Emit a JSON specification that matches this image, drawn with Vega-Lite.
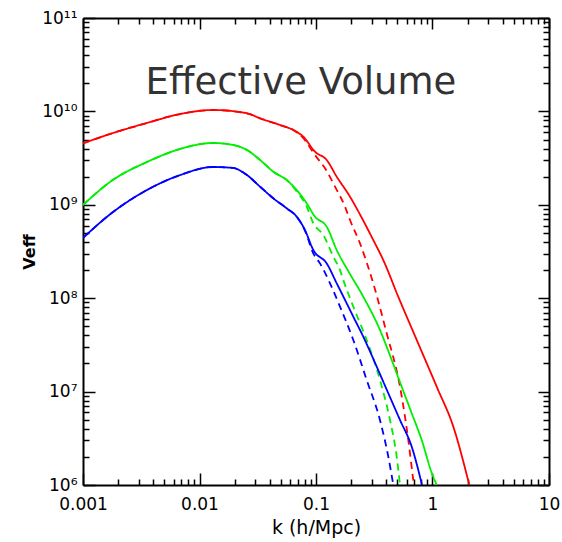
{
  "$schema": "https://vega.github.io/schema/vega-lite/v6.json",
  "width": 466,
  "height": 467,
  "autosize": {"type": "none"},
  "padding": {"left": 83, "top": 18, "right": 13, "bottom": 57},
  "background": "white",
  "config": {
    "view": {"stroke": null},
    "axis": {
      "grid": false,
      "domainColor": "black",
      "domainWidth": 2,
      "tickColor": "black",
      "tickWidth": 1.5,
      "labelFont": "DejaVu Sans",
      "labelFontSize": 17,
      "labelColor": "black",
      "titleFont": "DejaVu Sans",
      "titleColor": "black",
      "labelFlush": false,
      "labelOverlap": false
    }
  },
  "datasets": {
    "curves": [
      {"k": 0.001, "V": 4.55e9, "s": "red", "t": "solid"},
      {"k": 0.00181, "V": 5.87e9, "s": "red", "t": "solid"},
      {"k": 0.00354, "V": 7.52e9, "s": "red", "t": "solid"},
      {"k": 0.00681, "V": 9.37e9, "s": "red", "t": "solid"},
      {"k": 0.01306, "V": 1.035e10, "s": "red", "t": "solid"},
      {"k": 0.02558, "V": 9.55e9, "s": "red", "t": "solid"},
      {"k": 0.0331, "V": 8.43e9, "s": "red", "t": "solid"},
      {"k": 0.0491, "V": 7.15e9, "s": "red", "t": "solid"},
      {"k": 0.0639, "V": 6.32e9, "s": "red", "t": "solid"},
      {"k": 0.0778, "V": 5.36e9, "s": "red", "t": "solid"},
      {"k": 0.098, "V": 3.7e9, "s": "red", "t": "solid"},
      {"k": 0.1235, "V": 3.02e9, "s": "red", "t": "solid"},
      {"k": 0.1506, "V": 2.0e9, "s": "red", "t": "solid"},
      {"k": 0.1958, "V": 1.221e9, "s": "red", "t": "solid"},
      {"k": 0.253, "V": 6.87e8, "s": "red", "t": "solid"},
      {"k": 0.31, "V": 4.2e8, "s": "red", "t": "solid"},
      {"k": 0.378, "V": 2.56e8, "s": "red", "t": "solid"},
      {"k": 0.5085, "V": 1.037e8, "s": "red", "t": "solid"},
      {"k": 0.732, "V": 3.57e7, "s": "red", "t": "solid"},
      {"k": 1.087, "V": 1.128e7, "s": "red", "t": "solid"},
      {"k": 1.509, "V": 4.21e6, "s": "red", "t": "solid"},
      {"k": 2.07, "V": 1e6, "s": "red", "t": "solid"},

      {"k": 0.001, "V": 4.55e9, "s": "red", "t": "dashed"},
      {"k": 0.00181, "V": 5.87e9, "s": "red", "t": "dashed"},
      {"k": 0.00354, "V": 7.52e9, "s": "red", "t": "dashed"},
      {"k": 0.00681, "V": 9.37e9, "s": "red", "t": "dashed"},
      {"k": 0.01306, "V": 1.035e10, "s": "red", "t": "dashed"},
      {"k": 0.02558, "V": 9.55e9, "s": "red", "t": "dashed"},
      {"k": 0.0331, "V": 8.43e9, "s": "red", "t": "dashed"},
      {"k": 0.0491, "V": 7.15e9, "s": "red", "t": "dashed"},
      {"k": 0.0639, "V": 6.32e9, "s": "red", "t": "dashed"},
      {"k": 0.0778, "V": 5.16e9, "s": "red", "t": "dashed"},
      {"k": 0.098, "V": 3.41e9, "s": "red", "t": "dashed"},
      {"k": 0.1195, "V": 2.46e9, "s": "red", "t": "dashed"},
      {"k": 0.1456, "V": 1.563e9, "s": "red", "t": "dashed"},
      {"k": 0.1774, "V": 9.55e8, "s": "red", "t": "dashed"},
      {"k": 0.1958, "V": 6.87e8, "s": "red", "t": "dashed"},
      {"k": 0.2385, "V": 3.87e8, "s": "red", "t": "dashed"},
      {"k": 0.31, "V": 1.444e8, "s": "red", "t": "dashed"},
      {"k": 0.4044, "V": 4.21e7, "s": "red", "t": "dashed"},
      {"k": 0.526, "V": 1.128e7, "s": "red", "t": "dashed"},
      {"k": 0.62, "V": 3.03e6, "s": "red", "t": "dashed"},
      {"k": 0.684, "V": 1.13e6, "s": "red", "t": "dashed"},
      {"k": 0.693, "V": 1e6, "s": "red", "t": "dashed"},

      {"k": 0.001, "V": 9.95e8, "s": "green", "t": "solid"},
      {"k": 0.00181, "V": 1.85e9, "s": "green", "t": "solid"},
      {"k": 0.00354, "V": 2.87e9, "s": "green", "t": "solid"},
      {"k": 0.00681, "V": 3.96e9, "s": "green", "t": "solid"},
      {"k": 0.01306, "V": 4.59e9, "s": "green", "t": "solid"},
      {"k": 0.0194, "V": 4.37e9, "s": "green", "t": "solid"},
      {"k": 0.02558, "V": 3.86e9, "s": "green", "t": "solid"},
      {"k": 0.0331, "V": 3.02e9, "s": "green", "t": "solid"},
      {"k": 0.043, "V": 2.26e9, "s": "green", "t": "solid"},
      {"k": 0.056, "V": 1.843e9, "s": "green", "t": "solid"},
      {"k": 0.0683, "V": 1.44e9, "s": "green", "t": "solid"},
      {"k": 0.0832, "V": 1.038e9, "s": "green", "t": "solid"},
      {"k": 0.098, "V": 7.46e8, "s": "green", "t": "solid"},
      {"k": 0.1235, "V": 5.83e8, "s": "green", "t": "solid"},
      {"k": 0.1506, "V": 3.28e8, "s": "green", "t": "solid"},
      {"k": 0.1958, "V": 1.815e8, "s": "green", "t": "solid"},
      {"k": 0.2547, "V": 1.037e8, "s": "green", "t": "solid"},
      {"k": 0.354, "V": 4.57e7, "s": "green", "t": "solid"},
      {"k": 0.4465, "V": 2.18e7, "s": "green", "t": "solid"},
      {"k": 0.544, "V": 1.128e7, "s": "green", "t": "solid"},
      {"k": 0.6632, "V": 5.86e6, "s": "green", "t": "solid"},
      {"k": 0.808, "V": 3.03e6, "s": "green", "t": "solid"},
      {"k": 0.984, "V": 1.354e6, "s": "green", "t": "solid"},
      {"k": 1.087, "V": 1e6, "s": "green", "t": "solid"},

      {"k": 0.001, "V": 9.95e8, "s": "green", "t": "dashed"},
      {"k": 0.00181, "V": 1.85e9, "s": "green", "t": "dashed"},
      {"k": 0.00354, "V": 2.87e9, "s": "green", "t": "dashed"},
      {"k": 0.00681, "V": 3.96e9, "s": "green", "t": "dashed"},
      {"k": 0.01306, "V": 4.59e9, "s": "green", "t": "dashed"},
      {"k": 0.0194, "V": 4.37e9, "s": "green", "t": "dashed"},
      {"k": 0.02558, "V": 3.86e9, "s": "green", "t": "dashed"},
      {"k": 0.0331, "V": 3.02e9, "s": "green", "t": "dashed"},
      {"k": 0.043, "V": 2.26e9, "s": "green", "t": "dashed"},
      {"k": 0.056, "V": 1.843e9, "s": "green", "t": "dashed"},
      {"k": 0.0683, "V": 1.39e9, "s": "green", "t": "dashed"},
      {"k": 0.0832, "V": 9.55e8, "s": "green", "t": "dashed"},
      {"k": 0.0948, "V": 6.34e8, "s": "green", "t": "dashed"},
      {"k": 0.1155, "V": 4.75e8, "s": "green", "t": "dashed"},
      {"k": 0.1408, "V": 2.78e8, "s": "green", "t": "dashed"},
      {"k": 0.1607, "V": 2.0e8, "s": "green", "t": "dashed"},
      {"k": 0.1715, "V": 1.567e8, "s": "green", "t": "dashed"},
      {"k": 0.209, "V": 8.11e7, "s": "green", "t": "dashed"},
      {"k": 0.2723, "V": 3.57e7, "s": "green", "t": "dashed"},
      {"k": 0.354, "V": 1.331e7, "s": "green", "t": "dashed"},
      {"k": 0.4315, "V": 4.97e6, "s": "green", "t": "dashed"},
      {"k": 0.4928, "V": 2.01e6, "s": "green", "t": "dashed"},
      {"k": 0.526, "V": 1e6, "s": "green", "t": "dashed"},

      {"k": 0.001, "V": 4.42e8, "s": "blue", "t": "solid"},
      {"k": 0.00181, "V": 8.37e8, "s": "blue", "t": "solid"},
      {"k": 0.00354, "V": 1.44e9, "s": "blue", "t": "solid"},
      {"k": 0.00681, "V": 2.08e9, "s": "blue", "t": "solid"},
      {"k": 0.01306, "V": 2.54e9, "s": "blue", "t": "solid"},
      {"k": 0.0194, "V": 2.48e9, "s": "blue", "t": "solid"},
      {"k": 0.02558, "V": 2.08e9, "s": "blue", "t": "solid"},
      {"k": 0.0331, "V": 1.563e9, "s": "blue", "t": "solid"},
      {"k": 0.043, "V": 1.174e9, "s": "blue", "t": "solid"},
      {"k": 0.056, "V": 9.17e8, "s": "blue", "t": "solid"},
      {"k": 0.0683, "V": 7.46e8, "s": "blue", "t": "solid"},
      {"k": 0.0804, "V": 5.37e8, "s": "blue", "t": "solid"},
      {"k": 0.0948, "V": 3.28e8, "s": "blue", "t": "solid"},
      {"k": 0.1235, "V": 2.36e8, "s": "blue", "t": "solid"},
      {"k": 0.1506, "V": 1.444e8, "s": "blue", "t": "solid"},
      {"k": 0.1834, "V": 8.82e7, "s": "blue", "t": "solid"},
      {"k": 0.209, "V": 6.34e7, "s": "blue", "t": "solid"},
      {"k": 0.2547, "V": 3.87e7, "s": "blue", "t": "solid"},
      {"k": 0.332, "V": 1.848e7, "s": "blue", "t": "solid"},
      {"k": 0.4174, "V": 9.6e6, "s": "blue", "t": "solid"},
      {"k": 0.526, "V": 4.97e6, "s": "blue", "t": "solid"},
      {"k": 0.6632, "V": 2.57e6, "s": "blue", "t": "solid"},
      {"k": 0.813, "V": 1e6, "s": "blue", "t": "solid"},

      {"k": 0.001, "V": 4.42e8, "s": "blue", "t": "dashed"},
      {"k": 0.00181, "V": 8.37e8, "s": "blue", "t": "dashed"},
      {"k": 0.00354, "V": 1.44e9, "s": "blue", "t": "dashed"},
      {"k": 0.00681, "V": 2.08e9, "s": "blue", "t": "dashed"},
      {"k": 0.01306, "V": 2.54e9, "s": "blue", "t": "dashed"},
      {"k": 0.0194, "V": 2.48e9, "s": "blue", "t": "dashed"},
      {"k": 0.02558, "V": 2.08e9, "s": "blue", "t": "dashed"},
      {"k": 0.0331, "V": 1.563e9, "s": "blue", "t": "dashed"},
      {"k": 0.043, "V": 1.174e9, "s": "blue", "t": "dashed"},
      {"k": 0.056, "V": 9.17e8, "s": "blue", "t": "dashed"},
      {"k": 0.0683, "V": 7.46e8, "s": "blue", "t": "dashed"},
      {"k": 0.0804, "V": 5.3e8, "s": "blue", "t": "dashed"},
      {"k": 0.0948, "V": 3.02e8, "s": "blue", "t": "dashed"},
      {"k": 0.1082, "V": 2.36e8, "s": "blue", "t": "dashed"},
      {"k": 0.1319, "V": 1.444e8, "s": "blue", "t": "dashed"},
      {"k": 0.1607, "V": 8.11e7, "s": "blue", "t": "dashed"},
      {"k": 0.209, "V": 3.57e7, "s": "blue", "t": "dashed"},
      {"k": 0.2723, "V": 1.331e7, "s": "blue", "t": "dashed"},
      {"k": 0.354, "V": 4.97e6, "s": "blue", "t": "dashed"},
      {"k": 0.4174, "V": 2.01e6, "s": "blue", "t": "dashed"},
      {"k": 0.461, "V": 1e6, "s": "blue", "t": "dashed"}
    ],
    "titleText": [
      {"k": 0.0743, "V": 1.535e10, "label": "Effective Volume"}
    ]
  },
  "resolve": {"axis": {"x": "independent", "y": "independent"}},
  "layer": [
    {
      "data": {"name": "curves"},
      "transform": [{"filter": "datum.s === 'red'"}],
      "mark": {"type": "line", "strokeWidth": 1.8, "clip": true, "interpolate": "monotone"},
      "encoding": {
        "x": {"field": "k", "type": "quantitative",
          "scale": {"type": "log", "domain": [0.001, 10], "nice": false},
          "axis": {"orient": "bottom", "values": [0.001, 0.01, 0.1, 1, 10], "format": "~g",
            "tickSize": -12, "labelPadding": 23, "title": "k (h/Mpc)", "titleFontSize": 19,
            "titleFontWeight": "normal", "titlePadding": 6}},
        "y": {"field": "V", "type": "quantitative",
          "scale": {"type": "log", "domain": [1000000, 100000000000], "nice": false},
          "axis": {"orient": "left", "values": [1000000, 10000000, 100000000, 1000000000, 10000000000, 100000000000],
            "labelExpr": "datum.value >= 5e10 ? '10¹¹' : datum.value >= 5e9 ? '10¹⁰' : datum.value >= 5e8 ? '10⁹' : datum.value >= 5e7 ? '10⁸' : datum.value >= 5e6 ? '10⁷' : '10⁶'",
            "tickSize": -12, "labelPadding": 18, "title": "Veff", "titleFontSize": 16,
            "titleFontWeight": "bold", "titlePadding": 4}},
        "color": {"field": "s", "type": "nominal", "legend": null,
          "scale": {"domain": ["red", "green", "blue"], "range": ["#ff0000", "#00ee00", "#0000ff"]}},
        "strokeDash": {"field": "t", "type": "nominal", "legend": null,
          "scale": {"domain": ["solid", "dashed"], "range": [[1, 0], [7, 5]]}}
      }
    },
    {
      "data": {"name": "curves"},
      "transform": [{"filter": "datum.s === 'green'"}],
      "mark": {"type": "line", "strokeWidth": 1.8, "clip": true, "interpolate": "monotone"},
      "encoding": {
        "x": {"field": "k", "type": "quantitative",
          "axis": {"orient": "bottom", "values": [0.002,0.003,0.004,0.005,0.006,0.007,0.008,0.009,0.02,0.03,0.04,0.05,0.06,0.07,0.08,0.09,0.2,0.3,0.4,0.5,0.6,0.7,0.8,0.9,2,3,4,5,6,7,8,9],
            "tickSize": -6, "labels": false, "title": null, "domain": false}},
        "y": {"field": "V", "type": "quantitative",
          "axis": {"orient": "left", "values": [2e6,3e6,4e6,5e6,6e6,7e6,8e6,9e6,2e7,3e7,4e7,5e7,6e7,7e7,8e7,9e7,2e8,3e8,4e8,5e8,6e8,7e8,8e8,9e8,2e9,3e9,4e9,5e9,6e9,7e9,8e9,9e9,2e10,3e10,4e10,5e10,6e10,7e10,8e10,9e10],
            "tickSize": -6, "labels": false, "title": null, "domain": false}},
        "color": {"field": "s", "type": "nominal", "legend": null},
        "strokeDash": {"field": "t", "type": "nominal", "legend": null}
      }
    },
    {
      "data": {"name": "curves"},
      "transform": [{"filter": "datum.s === 'blue'"}],
      "mark": {"type": "line", "strokeWidth": 1.8, "clip": true, "interpolate": "monotone"},
      "encoding": {
        "x": {"field": "k", "type": "quantitative",
          "axis": {"orient": "top", "values": [0.001, 0.01, 0.1, 1, 10],
            "tickSize": -11, "labels": false, "title": null}},
        "y": {"field": "V", "type": "quantitative",
          "axis": {"orient": "right", "values": [1000000, 10000000, 100000000, 1000000000, 10000000000, 100000000000],
            "tickSize": -11, "labels": false, "title": null}},
        "color": {"field": "s", "type": "nominal", "legend": null},
        "strokeDash": {"field": "t", "type": "nominal", "legend": null}
      }
    },
    {
      "data": {"name": "titleText"},
      "mark": {"type": "text", "font": "DejaVu Sans", "fontSize": 37, "color": "#333333", "align": "center", "baseline": "alphabetic"},
      "encoding": {
        "x": {"field": "k", "type": "quantitative",
          "axis": {"orient": "top", "values": [0.002,0.003,0.004,0.005,0.006,0.007,0.008,0.009,0.02,0.03,0.04,0.05,0.06,0.07,0.08,0.09,0.2,0.3,0.4,0.5,0.6,0.7,0.8,0.9,2,3,4,5,6,7,8,9],
            "tickSize": -6, "labels": false, "title": null, "domain": false}},
        "y": {"field": "V", "type": "quantitative",
          "axis": {"orient": "right", "values": [2e6,3e6,4e6,5e6,6e6,7e6,8e6,9e6,2e7,3e7,4e7,5e7,6e7,7e7,8e7,9e7,2e8,3e8,4e8,5e8,6e8,7e8,8e8,9e8,2e9,3e9,4e9,5e9,6e9,7e9,8e9,9e9,2e10,3e10,4e10,5e10,6e10,7e10,8e10,9e10],
            "tickSize": -6, "labels": false, "title": null, "domain": false}},
        "text": {"field": "label"}
      }
    }
  ]
}
